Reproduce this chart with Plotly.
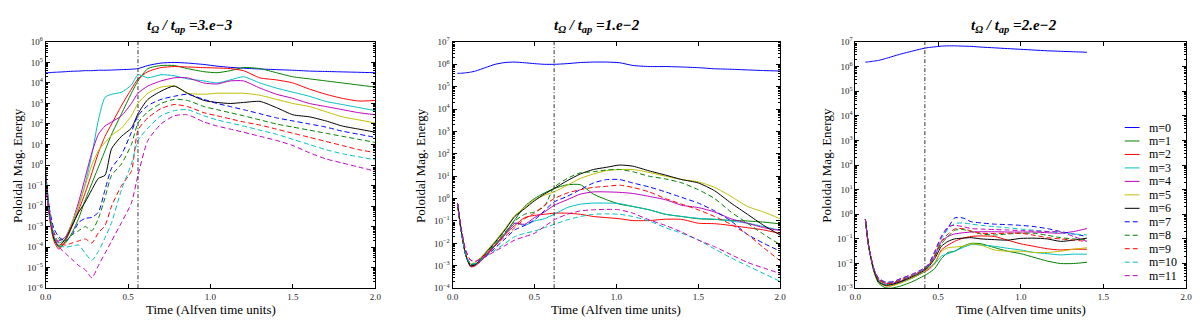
import plotly.graph_objects as go

# the page puts the figure 8px in from the top-left corner, so the figure is
# sized to fill the rest of the window and all pixel positions are shifted
OFF = 8
FW, FH = 1200 - OFF, 322 - OFF

labels = [f"m={m}" for m in range(12)]
colors = ["#0000ff", "#008000", "#ff0000", "#00bfbf", "#bf00bf", "#bfbf00", "#000000",
          "#0000ff", "#008000", "#ff0000", "#00bfbf", "#bf00bf"]
dashes = ["solid"] * 7 + ["5px,3px"] * 5

ratio_text = ["3.e\u22123", "1.e\u22122", "2.e\u22122"]
t_mark = [0.56, 0.62, 0.42]
decades = [(-6, 6), (-4, 7), (-3, 7)]
x_ticks = [0.0, 0.5, 1.0, 1.5, 2.0]

# ---- panel 1 : log10 of energy per mode ----
t1 = [0.0, 0.02, 0.05, 0.08, 0.12, 0.16, 0.2, 0.24, 0.28, 0.32, 0.36, 0.4, 0.46, 0.52, 0.56,
      0.62, 0.7, 0.78, 0.86, 0.96, 1.04, 1.12, 1.2, 1.3, 1.4, 1.5, 1.6, 1.7, 1.8, 1.9, 2.0]
logE1 = [
    [4.5, 4.5, 4.52, 4.53, 4.55, 4.57, 4.58, 4.6, 4.6, 4.62, 4.62, 4.63, 4.65, 4.67, 4.7,
     4.85, 4.97, 5.0, 4.97, 4.9, 4.82, 4.76, 4.72, 4.68, 4.65, 4.62, 4.58, 4.56, 4.54, 4.52, 4.5],
    [-0.6, -2.2, -3.6, -4.0, -3.8, -3.3, -2.6, -1.7, -0.9, -0.1, 0.7, 1.5, 2.5, 3.5, 4.1,
     4.7, 4.85, 4.85, 4.7, 4.55, 4.5, 4.6, 4.75, 4.7, 4.5, 4.3, 4.2, 4.1, 4.0, 3.9, 3.8],
    [-0.4, -2.0, -3.7, -4.1, -3.7, -3.0, -2.2, -1.35, -0.4, 0.6, 1.4, 2.0, 2.9, 3.7, 4.2,
     4.55, 4.75, 4.8, 4.78, 4.75, 4.73, 4.7, 4.6, 4.25, 4.15, 4.0, 3.7, 3.45, 3.25, 3.12, 3.15],
    [-0.3, -2.0, -3.5, -3.8, -3.6, -2.9, -2.0, -0.9, 0.5, 2.2, 3.3, 3.45, 3.55, 3.9, 4.4,
     4.25, 4.4, 4.35, 4.2, 4.1, 4.0, 4.15, 4.3, 4.0, 3.75, 3.55, 3.35, 3.1, 2.95, 2.8, 2.65],
    [-0.8, -2.4, -3.6, -3.7, -3.5, -2.8, -1.8, -0.6, 0.6, 1.5, 1.9, 2.1, 2.4, 3.0, 3.5,
     3.85, 4.1, 4.25, 4.25, 4.0, 3.95, 4.1, 4.1, 3.75, 3.45, 3.25, 3.0, 2.85, 2.7, 2.55, 2.45],
    [-0.7, -2.3, -3.7, -3.9, -3.6, -2.8, -2.0, -1.0, 0.0, 0.7, 1.1, 1.45, 1.8, 2.4, 3.0,
     3.5, 3.8, 3.85, 3.5, 3.45, 3.5, 3.5, 3.5, 3.4, 3.2, 3.0, 2.85, 2.6, 2.35, 2.2, 2.05],
    [-0.6, -2.2, -3.6, -3.95, -3.6, -2.95, -2.3, -1.8, -1.2, -0.65, -0.5, 0.8, 1.4, 1.8, 2.5,
     3.2, 3.6, 3.85, 3.5, 3.15, 3.05, 3.0, 3.05, 3.1, 2.8, 2.45, 2.35, 2.15, 1.9, 1.75, 1.6],
    [-0.5, -2.0, -3.1, -3.5, -3.7, -3.4, -2.8, -2.6, -2.55, -2.3, -1.2, -0.15, 0.5, 1.6, 2.4,
     2.9, 3.2, 3.35, 3.45, 3.2, 3.0, 2.85, 2.7, 2.5, 2.3, 2.15, 2.0, 1.85, 1.65, 1.5, 1.35],
    [-0.5, -2.2, -3.3, -3.6, -3.7, -3.4, -3.2, -3.0, -3.2, -2.6, -1.6, -0.5, 0.05, 1.0, 2.05,
     2.6, 3.0, 3.2, 3.15, 2.85, 2.7, 2.55, 2.4, 2.2, 2.0, 1.85, 1.7, 1.55, 1.4, 1.25, 1.1],
    [-0.5, -2.2, -3.3, -3.8, -3.9, -3.8, -3.7, -3.6, -3.8, -3.3, -2.95, -2.0, -1.0, -0.3, 1.7,
     2.3, 2.75, 2.95, 2.85, 2.55, 2.4, 2.25, 2.1, 1.95, 1.75, 1.55, 1.35, 1.15, 0.95, 0.75, 0.6],
    [-0.5, -2.2, -3.4, -3.9, -4.0, -3.95, -3.9, -4.3, -4.65, -4.2, -3.55, -2.8, -1.2, 0.05, 1.2,
     1.8, 2.4, 2.65, 2.7, 2.4, 2.2, 2.05, 1.9, 1.7, 1.5, 1.25, 1.0, 0.75, 0.55, 0.4, 0.25],
    [-0.6, -2.3, -3.5, -4.0, -4.3, -4.6, -4.9, -5.1, -5.5, -4.9, -4.3, -3.7, -2.8, -1.85, -0.5,
     1.2, 2.0, 2.4, 2.45, 2.1, 1.9, 1.75, 1.6, 1.4, 1.2, 0.95, 0.6, 0.3, 0.1, -0.1, -0.3],
]

# ---- panel 2 ----
t2 = [0.03, 0.05, 0.08, 0.11, 0.14, 0.2, 0.26, 0.32, 0.38, 0.44, 0.5, 0.56, 0.62, 0.7,
      0.78, 0.86, 0.94, 1.02, 1.1, 1.2, 1.3, 1.4, 1.5, 1.6, 1.7, 1.8, 1.9, 2.0]
logE2 = [
    [5.6, 5.6, 5.62, 5.65, 5.7, 5.85, 6.0, 6.08, 6.1, 6.07, 6.03, 6.0, 6.0, 6.03,
     6.08, 6.1, 6.1, 6.07, 5.95, 5.9, 5.9, 5.88, 5.85, 5.8, 5.78, 5.75, 5.72, 5.7],
    [-0.2, -1.3, -2.5, -3.0, -2.95, -2.55, -2.05, -1.55, -0.95, -0.35, 0.0, 0.25, 0.45, 0.62,
     0.62, 0.2, -0.05, -0.25, -0.35, -0.5, -0.7, -0.8, -0.9, -0.93, -0.97, -1.0, -1.05, -1.13],
    [-0.2, -1.3, -2.5, -3.05, -3.0, -2.6, -2.1, -1.6, -1.2, -0.85, -0.75, -0.7, -0.65, -0.65,
     -0.7, -0.8, -0.85, -0.9, -0.98, -0.98, -0.92, -0.93, -1.1, -1.12, -1.2, -1.3, -1.4, -1.56],
    [-0.2, -1.3, -2.5, -3.0, -2.95, -2.55, -2.1, -1.6, -1.1, -1.2, -1.0, -0.9, -0.7, -0.4,
     -0.25, -0.2, -0.2, -0.22, -0.35, -0.5, -0.7, -0.8, -0.88, -0.92, -1.0, -1.1, -1.25, -1.42],
    [-0.2, -1.3, -2.5, -3.0, -2.95, -2.55, -2.1, -1.6, -1.1, -1.15, -0.85, -0.6, -0.3, -0.05,
     0.2, 0.3, 0.3, 0.28, 0.23, 0.1, -0.05, -0.3, -0.4, -0.6, -0.9, -1.1, -1.3, -1.42],
    [-0.2, -1.3, -2.5, -2.9, -2.85, -2.4, -1.9, -1.35, -0.75, -0.4, -0.05, 0.15, 0.3, 0.6,
     0.9, 1.1, 1.25, 1.3, 1.3, 1.17, 1.0, 0.85, 0.75, 0.5, 0.1, -0.35, -0.6, -0.9],
    [-0.2, -1.3, -2.5, -3.0, -2.95, -2.45, -1.95, -1.4, -0.8, -0.45, -0.1, 0.2, 0.45, 0.8,
     1.1, 1.3, 1.4, 1.5, 1.45, 1.24, 1.05, 0.85, 0.7, 0.35, -0.2, -0.7, -1.2, -1.63],
    [-0.2, -1.3, -2.5, -2.95, -2.9, -2.6, -2.2, -1.8, -1.4, -1.2, -0.95, -0.55, -0.15, 0.1,
     0.4, 0.7, 0.85, 0.85, 0.7, 0.52, 0.3, 0.05, -0.2, -0.55, -1.0, -1.6, -2.0, -2.35],
    [-0.2, -1.3, -2.5, -2.95, -2.9, -2.5, -2.0, -1.5, -1.0, -0.7, -0.6, -0.35, 0.5, 0.9,
     1.15, 1.2, 1.28, 1.3, 1.2, 1.0, 0.88, 0.7, 0.4, 0.0, -0.6, -1.1, -1.6, -2.06],
    [-0.2, -1.2, -2.3, -2.75, -2.8, -2.5, -2.1, -1.7, -1.3, -0.9, -0.65, -0.3, 0.0, 0.25,
     0.4, 0.5, 0.55, 0.6, 0.5, 0.3, 0.0, -0.25, -0.5, -0.8, -1.15, -1.6, -2.2, -2.78],
    [-0.2, -1.3, -2.5, -2.9, -2.9, -2.6, -2.3, -2.0, -1.7, -1.55, -1.45, -1.3, -1.15, -0.95,
     -0.8, -0.7, -0.68, -0.7, -0.8, -1.0, -1.3, -1.55, -1.85, -2.25, -2.65, -3.0, -3.35, -3.7],
    [-0.2, -1.2, -2.3, -2.75, -2.8, -2.6, -2.35, -2.1, -1.85, -1.7, -1.55, -1.25, -0.95, -0.7,
     -0.55, -0.5, -0.48, -0.5, -0.65, -0.95, -1.2, -1.5, -1.85, -2.15, -2.5, -2.85, -3.1, -3.35],
]

# ---- panel 3 ----
t3 = [0.06, 0.08, 0.11, 0.14, 0.18, 0.22, 0.28, 0.34, 0.4, 0.44, 0.48, 0.52, 0.56, 0.6,
      0.65, 0.7, 0.76, 0.84, 0.92, 1.0, 1.08, 1.16, 1.24, 1.32, 1.4]
logE3 = [
    [6.18, 6.19, 6.22, 6.25, 6.32, 6.4, 6.52, 6.62, 6.72, 6.77, 6.8, 6.83, 6.84, 6.84,
     6.83, 6.82, 6.79, 6.76, 6.73, 6.7, 6.67, 6.64, 6.62, 6.6, 6.58],
    [-0.2, -1.3, -2.3, -2.8, -2.98, -3.0, -2.9, -2.75, -2.55, -2.4, -2.2, -1.8, -1.55, -1.5,
     -1.3, -1.18, -1.2, -1.35, -1.5, -1.6, -1.75, -1.9, -2.0, -2.0, -1.95],
    [-0.2, -1.3, -2.2, -2.7, -2.9, -2.9, -2.75, -2.6, -2.4, -2.25, -2.0, -1.45, -1.25, -1.1,
     -0.97, -0.9, -0.88, -0.9, -1.05, -1.2, -1.3, -1.4, -1.45, -1.42, -1.42],
    [-0.2, -1.3, -2.2, -2.7, -2.85, -2.85, -2.75, -2.6, -2.4, -2.2, -2.0, -1.7, -1.6, -1.5,
     -1.35, -1.23, -1.25, -1.3, -1.38, -1.45, -1.55, -1.6, -1.65, -1.62, -1.62],
    [-0.2, -1.3, -2.2, -2.65, -2.8, -2.8, -2.7, -2.5, -2.3, -2.1, -1.7, -1.1, -0.9, -0.8,
     -0.75, -0.72, -0.71, -0.71, -0.72, -0.72, -0.72, -0.75, -0.77, -0.7, -0.58],
    [-0.2, -1.3, -2.25, -2.75, -2.9, -2.9, -2.78, -2.6, -2.4, -2.2, -1.95, -1.5, -1.36, -1.33,
     -1.3, -1.2, -1.25, -1.45, -1.5, -1.5, -1.55, -1.55, -1.5, -1.42, -1.36],
    [-0.2, -1.3, -2.25, -2.75, -2.88, -2.85, -2.72, -2.55, -2.35, -2.15, -1.8, -1.3, -1.1, -1.0,
     -0.97, -0.95, -1.0, -1.03, -1.05, -0.98, -0.97, -1.0, -1.1, -1.05, -0.97],
    [-0.2, -1.3, -2.2, -2.6, -2.75, -2.75, -2.6, -2.45, -2.25, -2.05, -1.5, -0.9, -0.55, -0.15,
     -0.15, -0.3, -0.35, -0.4, -0.42, -0.45, -0.5, -0.58, -0.7, -0.8, -0.9],
    [-0.2, -1.3, -2.2, -2.65, -2.78, -2.78, -2.65, -2.5, -2.3, -2.1, -1.7, -1.2, -0.9, -0.65,
     -0.62, -0.7, -0.8, -0.84, -0.8, -0.77, -0.77, -0.85, -0.95, -1.0, -1.03],
    [-0.2, -1.3, -2.2, -2.65, -2.8, -2.8, -2.65, -2.5, -2.3, -2.1, -1.65, -1.1, -0.8, -0.6,
     -0.58, -0.68, -0.77, -0.78, -0.77, -0.77, -0.85, -0.95, -1.0, -1.05, -1.1],
    [-0.2, -1.3, -2.2, -2.6, -2.75, -2.75, -2.62, -2.48, -2.28, -2.08, -1.6, -1.0, -0.6, -0.38,
     -0.35, -0.4, -0.45, -0.5, -0.55, -0.6, -0.65, -0.7, -0.75, -0.8, -0.84],
    [-0.2, -1.3, -2.2, -2.6, -2.75, -2.75, -2.6, -2.45, -2.25, -2.05, -1.55, -0.9, -0.5, -0.45,
     -0.5, -0.58, -0.6, -0.62, -0.64, -0.66, -0.68, -0.7, -0.72, -0.9, -1.1],
]

times = [t1, t2, t3]
logs = [logE1, logE2, logE3]

# panel boxes in window pixels (left, right), shared top/bottom
boxes = [(40, 373), (451, 782), (858, 1192)]
top_px, bot_px = 36, 292
FONT = "Liberation Serif"


def px_x(v):
    return (v - OFF) / FW


def px_y(v):
    return 1 - (v - OFF) / FH


fig = go.Figure()

for p in range(3):
    ax = "" if p == 0 else str(p + 1)
    for m in range(12):
        fig.add_trace(go.Scatter(
            x=times[p], y=[10 ** v for v in logs[p][m]],
            mode="lines", name=labels[m],
            line=dict(color=colors[m], width=1, dash=dashes[m], shape="spline", smoothing=0.6),
            xaxis="x" + ax, yaxis="y" + ax, showlegend=False,
        ))

    lo, hi = decades[p]
    l_px, r_px = boxes[p]
    common = dict(showline=True, linecolor="black", linewidth=1, mirror="allticks",
                  ticks="inside", tickcolor="black", showgrid=False, zeroline=False,
                  tickfont=dict(size=9, family=FONT, color="#222"))
    fig.update_layout({
        "xaxis" + ax: dict(domain=[px_x(l_px), px_x(r_px)], range=[0, 2], tickvals=x_ticks,
                           ticktext=[f"{v:.1f}" for v in x_ticks], ticklen=4,
                           anchor="y" + ax, **common),
        "yaxis" + ax: dict(domain=[px_y(bot_px), px_y(top_px)], type="log",
                           range=[lo, hi], anchor="x" + ax, ticklen=4,
                           tickvals=[10 ** k for k in range(lo, hi + 1)],
                           ticktext=[f"10<sup>{str(k).replace('-', chr(8722))}</sup>" for k in range(lo, hi + 1)],
                           minor=dict(ticks="inside", ticklen=2, tickcolor="black",
                                      tickvals=[j * 10 ** k for k in range(lo, hi) for j in range(2, 10)]),
                           **common),
    })

    fig.add_shape(type="line", xref="x" + ax, yref="y" + ax + " domain",
                  x0=t_mark[p], x1=t_mark[p], y0=0, y1=1,
                  line=dict(color="#333333", width=1, dash="4px,2px,1px,2px"))

    fig.add_annotation(text="<b><i>t<sub>\u03a9</sub> / t<sub>ap</sub> =" + ratio_text[p] + "</i></b>",
                       xref="paper", yref="paper", x=px_x([186, 597, 1018][p]), y=1,
                       xanchor="center", yanchor="top",
                       showarrow=False, font=dict(size=15, family=FONT, color="black"))
    fig.add_annotation(text="Poloidal Mag. Energy", textangle=-90,
                       xref="paper", yref="paper", x=px_x([11, 418, 828][p]), y=px_y(164),
                       xanchor="center", yanchor="middle",
                       showarrow=False, font=dict(size=13, family=FONT, color="black"))
    fig.add_annotation(text="Time (Alfven time units)",
                       xref="paper", yref="paper", x=px_x((l_px + r_px) / 2), y=px_y(314),
                       xanchor="center", yanchor="middle",
                       showarrow=False, font=dict(size=13, family=FONT, color="black"))

# hand-made legend in panel 3 (compact row spacing)
for m in range(12):
    yy = px_y(125 + 14 * m)
    fig.add_shape(type="line", xref="paper", yref="paper", x0=px_x(1130), x1=px_x(1145), y0=yy, y1=yy,
                  line=dict(color=colors[m], width=1, dash=dashes[m]))
    fig.add_annotation(text=labels[m], xref="paper", yref="paper", x=px_x(1153), y=yy,
                       xanchor="left", yanchor="middle", showarrow=False,
                       font=dict(size=12, family=FONT, color="black"))

fig.update_layout(width=FW, height=FH, margin=dict(l=0, r=0, t=0, b=0),
                  paper_bgcolor="white", plot_bgcolor="white", showlegend=False)

fig.write_html("out.html")
